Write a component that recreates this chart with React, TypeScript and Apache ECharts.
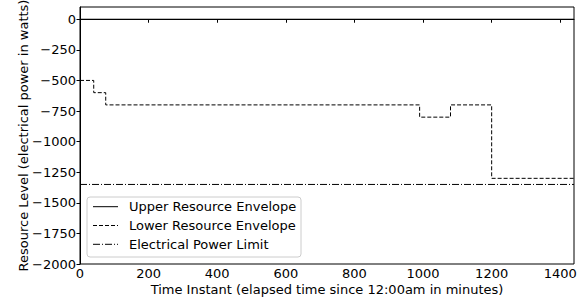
import React, { useEffect, useRef } from "react";
import * as echarts from "echarts";

const stepTimes = [0, 40, 75, 990, 1080, 1200, 1440];
const lowerLevels = [-500, -600, -700, -800, -700, -1300, -1300];
const upperTimes = [0, 1440];
const upperLevels = [0, 0];
const limitTimes = [0, 1440];
const limitLevels = [-1350, -1350];
const xTicks = [0, 200, 400, 600, 800, 1000, 1200, 1400];
const yTicks = [-2000, -1750, -1500, -1250, -1000, -750, -500, -250, 0];
const seriesNames = ["Upper Resource Envelope", "Lower Resource Envelope", "Electrical Power Limit"];

const FONT = "DejaVu Sans";
const FS = 13;
const dashes: (number[] | null)[] = [null, [4, 2], [7, 2, 1, 2]];

export default function App() {
  const ref = useRef<HTMLDivElement>(null);
  useEffect(() => {
    if (!ref.current) return;
    const chart = echarts.init(ref.current, undefined, { renderer: "svg" });
    const pair = (xs: number[], ys: number[]) => xs.map((x, i) => [x, ys[i]]);
    const fmt = (v: number) => String(v).replace("-", "\u2212");

    const legendLeft = 87;
    const legendTop = 197;
    const rowY = [206.7, 225.5, 244.3];
    const legendGraphics: any[] = [
      {
        type: "rect",
        shape: { x: legendLeft, y: legendTop, width: 214, height: 60, r: 3 },
        style: { fill: "rgba(255,255,255,0.8)", stroke: "#ccc", lineWidth: 1 },
        z: 100,
      },
    ];
    seriesNames.forEach((name, i) => {
      legendGraphics.push({
        type: "line",
        shape: { x1: 93, y1: rowY[i], x2: 118, y2: rowY[i] },
        style: { stroke: "#000", lineWidth: 1, lineDash: dashes[i] || undefined },
        z: 101,
      });
      legendGraphics.push({
        type: "text",
        x: 129,
        y: rowY[i],
        style: {
          text: name,
          fontFamily: FONT,
          fontSize: FS,
          fill: "#000",
          verticalAlign: "middle",
          align: "left",
        },
        z: 101,
      });
    });

    chart.setOption({
      animation: false,
      textStyle: { fontFamily: FONT, color: "#000" },
      grid: {
        left: 80,
        right: 12,
        top: 7,
        bottom: 38,
        containLabel: false,
        outerBoundsMode: "none",
        show: true,
        borderColor: "#000",
        borderWidth: 1,
        backgroundColor: "transparent",
      },
      xAxis: {
        type: "value",
        min: 0,
        max: 1440,
        name: "Time Instant (elapsed time since 12:00am in minutes)",
        nameLocation: "middle",
        nameGap: 19,
        nameMoveOverlap: false,
        nameTextStyle: { fontFamily: FONT, fontSize: FS, color: "#000" },
        axisLine: { show: true, lineStyle: { color: "#000", width: 1 } },
        axisTick: { show: true, customValues: xTicks, length: 3.5, inside: false, lineStyle: { color: "#000" } },
        axisLabel: { customValues: xTicks, margin: 3, fontFamily: FONT, fontSize: FS, color: "#000", formatter: fmt },
        splitLine: { show: false },
      },
      yAxis: {
        type: "value",
        min: -2000,
        max: 100,
        name: "Resource Level (electrical power in watts)",
        nameLocation: "middle",
        nameGap: 50,
        nameMoveOverlap: false,
        nameTextStyle: { fontFamily: FONT, fontSize: FS, color: "#000" },
        axisLine: { show: true, lineStyle: { color: "#000", width: 1 } },
        axisTick: { show: true, customValues: yTicks, length: 3.5, inside: false, lineStyle: { color: "#000" } },
        axisLabel: { customValues: yTicks, margin: 4, fontFamily: FONT, fontSize: FS, color: "#000", formatter: fmt },
        splitLine: { show: false },
      },
      graphic: legendGraphics,
      series: [
        {
          name: seriesNames[0],
          type: "line",
          symbol: "none",
          data: pair(upperTimes, upperLevels),
          lineStyle: { color: "#000", width: 1, type: "solid" },
          itemStyle: { color: "#000" },
        },
        {
          name: seriesNames[1],
          type: "line",
          symbol: "none",
          step: "end",
          data: pair(stepTimes, lowerLevels),
          lineStyle: { color: "#000", width: 1, type: dashes[1] },
          itemStyle: { color: "#000" },
        },
        {
          name: seriesNames[2],
          type: "line",
          symbol: "none",
          data: pair(limitTimes, limitLevels),
          lineStyle: { color: "#000", width: 1, type: dashes[2] },
          itemStyle: { color: "#000" },
        },
      ],
    });
    return () => chart.dispose();
  }, []);
  return <div ref={ref} style={{ width: 586, height: 302, position: "absolute", left: 0, top: 0 }} />;
}
